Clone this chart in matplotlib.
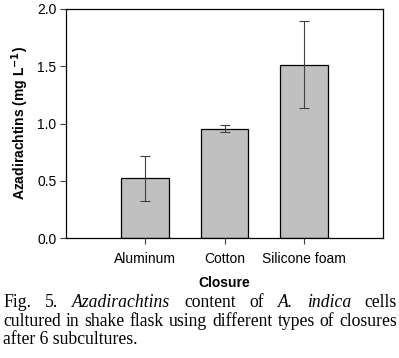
import matplotlib.pyplot as plt
import numpy as np

closures = ['Aluminum', 'Cotton', 'Silicone foam']
azad = [0.52, 0.955, 1.515]
err = [0.195, 0.03, 0.38]

plt.rcParams['font.family'] = 'Liberation Sans'

fig = plt.figure(figsize=(3.99, 3.58), dpi=100)
ax = fig.add_axes([66 / 399, 1 - 238 / 358, 317 / 399, 229 / 358])

x = np.arange(len(closures))
ax.bar(x, azad, width=0.6, color='#c0c0c0', edgecolor='black', linewidth=0.9)
ax.errorbar(x, azad, yerr=err, fmt='none', ecolor='#404040', elinewidth=0.8,
            capsize=3.5, capthick=0.8)

ax.set_xlim(-1, 3)
ax.set_ylim(0, 2.0)
ax.set_xticks(x)
ax.set_xticklabels(closures, fontsize=10)
ax.set_yticks([0, 0.5, 1.0, 1.5, 2.0])
ax.set_yticklabels(['0.0', '0.5', '1.0', '1.5', '2.0'], fontsize=10)
ax.tick_params(direction='out', length=4, width=0.8, color='#404040', pad=3)
ax.tick_params(axis='x', pad=6)
for s in ax.spines.values():
    s.set_linewidth(0.9)
ax.set_ylabel('Azadirachtins (mg L$^{\\mathbf{-1}}$)', fontsize=10, fontweight='bold', labelpad=4)
ax.set_xlabel('Closure', fontsize=10, fontweight='bold', labelpad=7)

# caption, justified word by word
cap_lines = [
    [('Fig.', 'normal'), ('5.', 'normal'), ('Azadirachtins', 'italic'), ('content', 'normal'),
     ('of', 'normal'), ('A.', 'italic'), ('indica', 'italic'), ('cells', 'normal')],
    [('cultured', 'normal'), ('in', 'normal'), ('shake', 'normal'), ('flask', 'normal'),
     ('using', 'normal'), ('different', 'normal'), ('types', 'normal'), ('of', 'normal'),
     ('closures', 'normal')],
    [('after 6 subcultures.', 'normal')],
]
justify = [True, True, False]
baselines = [307, 325.5, 344]
x0, x1 = 3, 397
W, H = 399, 358
renderer = fig.canvas.get_renderer()
for words, just, yb in zip(cap_lines, justify, baselines):
    texts = []
    for w, st in words:
        t = fig.text(0, 1 - yb / H, w, fontsize=12.7, family='Liberation Serif',
                     style=st, va='baseline', ha='left')
        texts.append(t)
    widths = [t.get_window_extent(renderer).width for t in texts]
    if just and len(texts) > 1:
        gap = (x1 - x0 - sum(widths)) / (len(texts) - 1)
    else:
        gap = 3
    pos = x0
    for t, wd in zip(texts, widths):
        t.set_x(pos / W)
        pos += wd + gap

fig.savefig('out.png', dpi=100)
